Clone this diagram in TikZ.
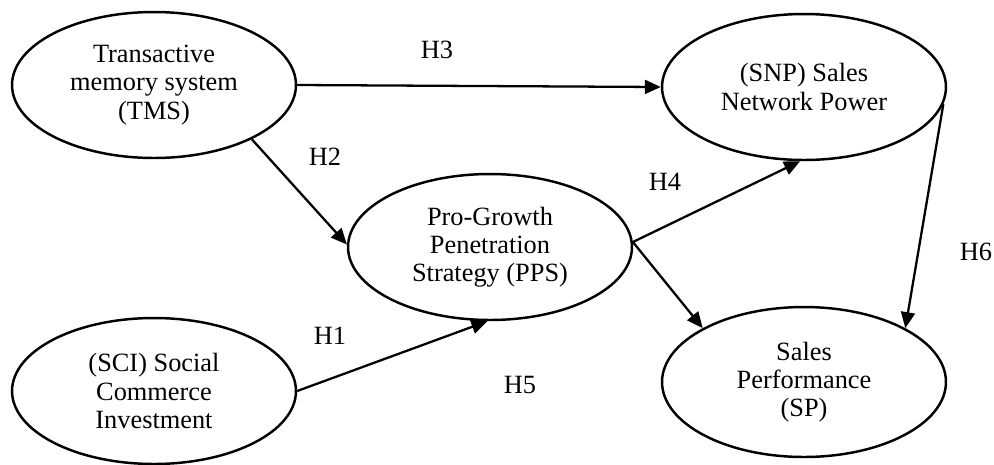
\documentclass[tikz,border=0pt]{standalone}
\usepackage{fontspec}
\setmainfont{Liberation Serif}
\usepackage{tikz}
\usetikzlibrary{arrows.meta}
\usetikzlibrary{positioning, shapes.geometric}

\begin{document}
\begin{tikzpicture}[x=0.02cm, y=-0.02cm,
    construct/.style={ellipse, draw, line width=1.4pt, minimum width=5.68cm, minimum height=2.92cm, inner sep=0pt, align=center, font=\fontsize{15}{16}\selectfont},
    hyp/.style={font=\fontsize{15}{16}\selectfont},
    path/.style={line width=1.3pt, -{Triangle[length=0.32cm, width=0.28cm]}}]
    \useasboundingbox (0,0) rectangle (994,464);
    % constructs
    \node[construct] (tms) at (154,85) {Transactive\\memory system\\(TMS)};
    \node[construct] (sci) at (154,391) {(SCI) Social\\Commerce\\Investment};
    \node[construct] (pps) at (490,247) {Pro-Growth\\Penetration\\Strategy (PPS)};
    \node[construct] (snp) at (804,87) {(SNP) Sales\\Network Power};
    \node[construct, minimum height=3cm] (sp) at (804,382) {Sales\\Performance\\(SP)};
    % hypotheses
    \node[hyp] (h1) at (330,336) {H1};
    \node[hyp] (h2) at (325,157) {H2};
    \node[hyp] (h3) at (437,50) {H3};
    \node[hyp] (h4) at (665,182) {H4};
    \node[hyp] (h5) at (520,385) {H5};
    \node[hyp] (h6) at (976,252) {H6};
    % paths
    \draw[path] (tms.east) -- (snp.west);
    \draw[path] (tms.-29) -- (pps.179);
    \draw[path] (sci.east) -- (pps.-92);
    \draw[path] (pps.2) -- (snp.-93);
    \draw[path] (pps.2) -- (sp.152);
    \draw[path] (snp.-7) -- (sp.28);
\end{tikzpicture}
\end{document}
